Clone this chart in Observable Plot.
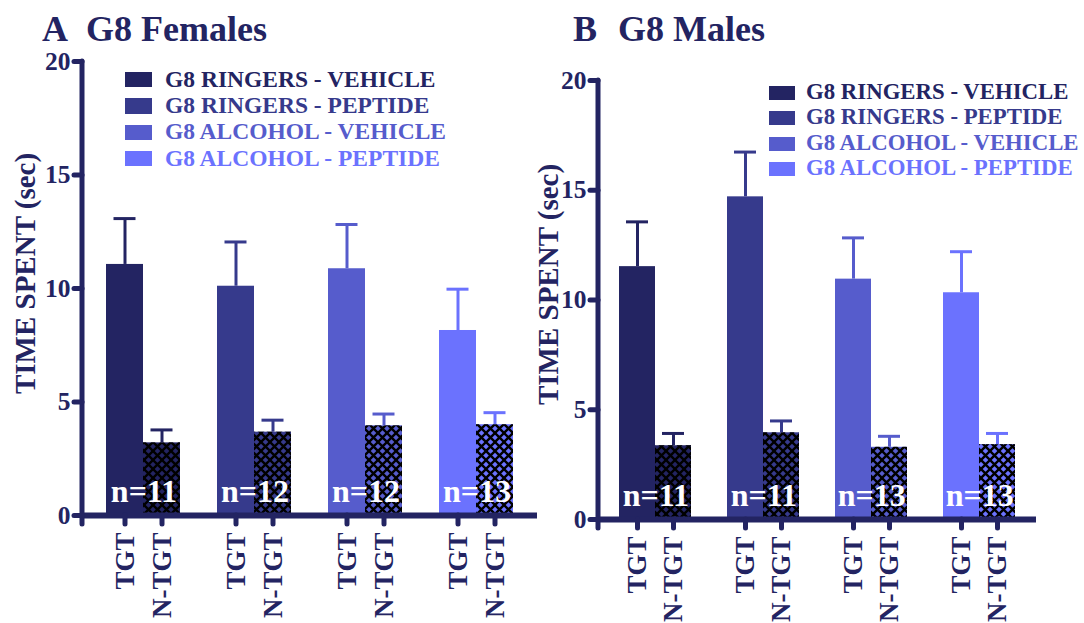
<!DOCTYPE html>
<html>
<head>
<meta charset="utf-8">
<script src="https://cdn.jsdelivr.net/npm/d3@7"></script>
<script src="https://cdn.jsdelivr.net/npm/@observablehq/plot@0.6"></script>
<style>
  html, body { margin: 0; padding: 0; background: #ffffff; }
  #fig {
    position: relative; width: 1084px; height: 623px; overflow: hidden;
    font-family: "Liberation Serif", "Times New Roman", serif; font-weight: bold; color: #232462;
  }
  .title { position: absolute; font-size: 36px; line-height: 1; white-space: nowrap; }
  .panel { position: absolute; top: 46px; }
  .legend-row { position: absolute; white-space: nowrap; line-height: 1; }
  .legend-row i { position: absolute; display: block; }
</style>
</head>
<body>
<div id="fig"></div>
<script>
// Treatment groups, in plotting order, and their colours
const groups = ["G8 RINGERS - VEHICLE", "G8 RINGERS - PEPTIDE", "G8 ALCOHOL - VEHICLE", "G8 ALCOHOL - PEPTIDE"];
const groupColors = ["#232462", "#363a8c", "#565ccc", "#6b72fe"];
const zones = ["TGT", "N-TGT"];
const yTicks = [0, 5, 10, 15, 20];
const yLabel = "TIME SPENT (sec)";

// Panel A: females (mean ± SEM, seconds)
const femaleTgtMean = [11.06, 10.10, 10.87, 8.15];
const femaleTgtSem = [2.02, 1.95, 1.95, 1.82];
const femaleNtgtMean = [3.20, 3.67, 3.95, 4.00];
const femaleNtgtSem = [0.57, 0.53, 0.52, 0.53];
const femaleN = [11, 12, 12, 13];

// Panel B: males (mean ± SEM, seconds)
const maleTgtMean = [11.52, 14.70, 10.95, 10.33];
const maleTgtSem = [2.04, 2.04, 1.88, 1.87];
const maleNtgtMean = [3.36, 3.95, 3.29, 3.41];
const maleNtgtSem = [0.56, 0.54, 0.50, 0.51];
const maleN = [11, 11, 13, 13];

const navy = groupColors[0];
const serif = "'Liberation Serif', 'Times New Roman', serif";

// x slots: TGT, N-TGT per group, with an empty slot between groups
const barKeys = groups.flatMap((g, i) => zones.map(z => `${i}|${z}`));
const xDomain = groups.flatMap((g, i) => i < groups.length - 1
  ? [`${i}|TGT`, `${i}|N-TGT`, `${i}|gap`]
  : [`${i}|TGT`, `${i}|N-TGT`]);

function buildRows(tgtMean, tgtSem, ntgtMean, ntgtSem) {
  return groups.flatMap((g, i) => [
    {key: `${i}|TGT`, zone: "TGT", group: g, color: groupColors[i], mean: tgtMean[i], sem: tgtSem[i]},
    {key: `${i}|N-TGT`, zone: "N-TGT", group: g, color: groupColors[i], mean: ntgtMean[i], sem: ntgtSem[i]}
  ]);
}

// cross-hatch used over the N-TGT bars
const hatchDefs = id => () => {
  const defs = d3.create("svg:defs");
  const p = defs.append("pattern")
    .attr("id", id).attr("patternUnits", "userSpaceOnUse")
    .attr("width", 9).attr("height", 9);
  p.append("path")
    .attr("d", "M-2,-2L11,11M11,-2L-2,11")
    .attr("stroke", "#000").attr("stroke-width", 2.4).attr("fill", "none");
  return defs.node();
};

// vertical axis line, running a little past the baseline
const yAxisLine = (index, scales, values, dimensions) => {
  return d3.create("svg:line")
    .attr("x1", dimensions.marginLeft).attr("x2", dimensions.marginLeft)
    .attr("y1", scales.y(20)).attr("y2", scales.y(0) + 9)
    .attr("stroke", navy).attr("stroke-width", 5).attr("stroke-linecap", "round")
    .node();
};

function panel({rows, n, id, width, marginLeft, marginRight, marginTop, marginBottom, capInset, labelDx, labelDy}) {
  const height = 577;
  const bw = (width - marginLeft - marginRight) / 12;
  const ntgt = rows.filter(d => d.zone === "N-TGT");
  const nRows = groups.map((g, i) => ({key: `${i}|TGT`, n: n[i]}));
  return Plot.plot({
    width, height, marginLeft, marginRight, marginTop, marginBottom,
    style: {fontFamily: serif, fontWeight: "bold", background: "transparent", color: navy, overflow: "visible"},
    x: {type: "band", domain: xDomain, paddingInner: 0, paddingOuter: 0.5},
    y: {domain: [0, 20]},
    color: {type: "identity"},
    marks: [
      hatchDefs(id),
      Plot.barY(rows, {x: "key", y: "mean", fill: "color"}),
      Plot.barY(ntgt, {x: "key", y: "mean", fill: `url(#${id})`}),
      Plot.ruleX(rows, {x: "key", y1: "mean", y2: d => d.mean + d.sem, stroke: "color", strokeWidth: 3}),
      Plot.tickY(rows, {x: "key", y: d => d.mean + d.sem, stroke: "color", strokeWidth: 3, insetLeft: capInset, insetRight: capInset}),
      Plot.ruleY([0], {stroke: navy, strokeWidth: 6, insetLeft: -2}),
      yAxisLine,
      Plot.axisY({ticks: yTicks, tickSize: 8, tickPadding: 4, stroke: navy, fill: navy, strokeWidth: 5,
        strokeLinecap: "round", fontSize: 25.5, label: null}),
      Plot.axisX({ticks: barKeys, tickFormat: k => k.split("|")[1], tickRotate: -90, tickSize: 9, tickPadding: 8,
        stroke: navy, fill: navy, strokeWidth: 5, strokeLinecap: "round", fontSize: 27, label: null}),
      Plot.text(nRows, {x: "key", y: 0, text: d => `n=${d.n}`, dx: bw / 2, dy: -24, fill: "white", fontSize: 32}),
      Plot.text([yLabel], {text: d => d, frameAnchor: "left", textAnchor: "middle", rotate: -90,
        dx: labelDx, dy: labelDy, fontSize: 29, fill: navy})
    ]
  });
}

function legend(container, {left, top, step, squareLeft, squareW, squareH, fontSize}) {
  groups.forEach((g, i) => {
    const row = document.createElement("div");
    row.className = "legend-row";
    row.style.left = `${left}px`;
    row.style.top = `${top + i * step}px`;
    row.style.fontSize = `${fontSize}px`;
    row.style.color = groupColors[i];
    const sq = document.createElement("i");
    sq.style.left = `${squareLeft - left}px`;
    sq.style.width = `${squareW}px`;
    sq.style.height = `${squareH}px`;
    sq.style.top = `${fontSize * 0.8375 - squareH}px`;
    sq.style.background = groupColors[i];
    row.appendChild(sq);
    row.appendChild(document.createTextNode(g));
    container.appendChild(row);
  });
}

function title(container, letter, text, left, textLeft, top) {
  const a = document.createElement("div");
  a.className = "title"; a.style.left = `${left}px`; a.style.top = `${top}px`; a.textContent = letter;
  const b = document.createElement("div");
  b.className = "title"; b.style.left = `${textLeft}px`; b.style.top = `${top}px`; b.textContent = text;
  container.append(a, b);
}

const fig = document.getElementById("fig");

const panelA = document.createElement("div");
panelA.className = "panel"; panelA.style.left = "0px";
panelA.appendChild(panel({
  rows: buildRows(femaleTgtMean, femaleTgtSem, femaleNtgtMean, femaleNtgtSem), n: femaleN, id: "hatchA",
  width: 540, marginLeft: 82, marginRight: 3, marginTop: 15, marginBottom: 108, capInset: 7.5,
  labelDx: -57, labelDy: -15
}));
fig.appendChild(panelA);

const panelB = document.createElement("div");
panelB.className = "panel"; panelB.style.left = "540px";
panelB.appendChild(panel({
  rows: buildRows(maleTgtMean, maleTgtSem, maleNtgtMean, maleNtgtSem), n: maleN, id: "hatchB",
  width: 544, marginLeft: 58, marginRight: 48, marginTop: 34, marginBottom: 104, capInset: 7,
  labelDx: -50, labelDy: -15.5
}));
fig.appendChild(panelB);

title(fig, "A", "G8 Females", 42, 86, 11);
title(fig, "B", "G8 Males", 573, 618, 11);

legend(fig, {left: 165, top: 67.6, step: 26.4, squareLeft: 125, squareW: 26.5, squareH: 15.3, fontSize: 23.5});
legend(fig, {left: 806, top: 81, step: 25.3, squareLeft: 769, squareW: 26, squareH: 14, fontSize: 22.8});
</script>
</body>
</html>
